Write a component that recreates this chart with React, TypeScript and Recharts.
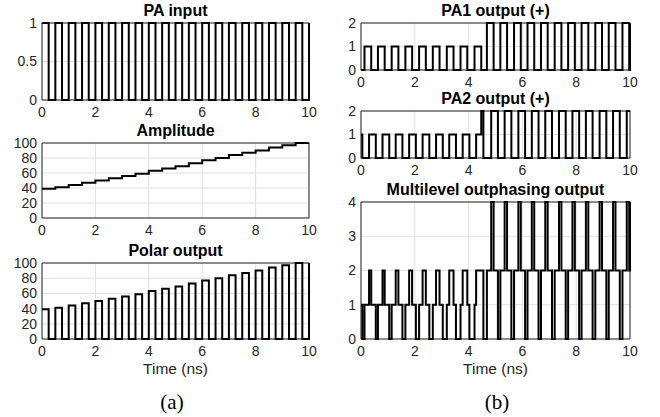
import React from 'react';
import { LineChart, Line, XAxis, YAxis, CartesianGrid, ReferenceArea } from 'recharts';

// ---- tick labels ----
const timeTicks = [0, 2, 4, 6, 8, 10];
const inputTicks = [0, 0.5, 1];
const percentTicks = [0, 20, 40, 60, 80, 100];
const paTicks = [0, 1, 2];
const multiTicks = [0, 1, 2, 3, 4];

// ---- PA input (square wave, 0/1) ----
const inputRise = [0, 0.5, 1, 1.5, 2, 2.5, 3, 3.5, 4, 4.5, 5, 5.5, 6, 6.5, 7, 7.5, 8, 8.5, 9, 9.5, 10];
const inputFall = [0.25, 0.75, 1.25, 1.75, 2.25, 2.75, 3.25, 3.75, 4.25, 4.75, 5.25, 5.75, 6.25, 6.75, 7.25, 7.75, 8.25, 8.75, 9.25, 9.75];

// ---- Amplitude staircase ----
const ampTimes = [0, 0.5, 1, 1.5, 2, 2.5, 3, 3.5, 4, 4.5, 5, 5.5, 6, 6.5, 7, 7.5, 8, 8.5, 9, 9.5, 10];
const ampLevels = [39, 41, 44, 47, 50, 53, 56, 59, 63, 66, 69, 73, 77, 80, 84, 87, 90, 94, 97, 100, 100];

// ---- PA1 output (+): [time, level] edges ----
const pa1Edges: [number, number][] = [
  [0, 0],
  [0.13, 1], [0.38, 0], [0.63, 1], [0.88, 0], [1.14, 1], [1.39, 0], [1.65, 1], [1.9, 0],
  [2.16, 1], [2.41, 0], [2.67, 1], [2.92, 0], [3.19, 1], [3.44, 0], [3.7, 1], [3.95, 0],
  [4.22, 1], [4.47, 0],
  [4.68, 2], [4.93, 0], [5.18, 2], [5.43, 0], [5.69, 2], [5.94, 0], [6.19, 2], [6.44, 0],
  [6.69, 2], [6.94, 0], [7.2, 2], [7.45, 0], [7.7, 2], [7.95, 0], [8.2, 2], [8.45, 0],
  [8.71, 2], [8.96, 0], [9.21, 2], [9.46, 0], [9.72, 2], [9.97, 0],
  [10, 2],
];

// ---- PA2 output (+): [time, level] edges ----
const pa2Edges: [number, number][] = [
  [0, 1], [0.05, 0],
  [0.3, 1], [0.55, 0], [0.8, 1], [1.05, 0], [1.29, 1], [1.54, 0], [1.79, 1], [2.04, 0],
  [2.29, 1], [2.54, 0], [2.79, 1], [3.04, 0], [3.28, 1], [3.53, 0], [3.78, 1], [4.03, 0],
  [4.28, 1], [4.47, 2], [4.55, 0],
  [4.84, 2], [5.09, 0], [5.34, 2], [5.59, 0], [5.85, 2], [6.1, 0], [6.35, 2], [6.6, 0],
  [6.85, 2], [7.1, 0], [7.36, 2], [7.61, 0], [7.86, 2], [8.11, 0], [8.36, 2], [8.61, 0],
  [8.87, 2], [9.12, 0], [9.37, 2], [9.62, 0], [9.88, 2],
  [10, 2],
];

type Pt = { t: number; v: number };

function valueAt(edges: [number, number][], t: number): number {
  let v = edges[0][1];
  for (const [et, ev] of edges) {
    if (et <= t + 1e-9) v = ev;
    else break;
  }
  return v;
}

const inputEdges: [number, number][] = [];
inputRise.forEach((r, i) => {
  inputEdges.push([r, 1]);
  if (i < inputFall.length) inputEdges.push([inputFall[i], 0]);
});
const ampEdges: [number, number][] = ampTimes.map((t, i) => [t, ampLevels[i]]);

function toData(edges: [number, number][]): Pt[] {
  return edges.map(([t, v]) => ({ t, v }));
}

function combine(a: [number, number][], b: [number, number][], op: (x: number, y: number) => number): Pt[] {
  const times = Array.from(new Set([...a.map((e) => e[0]), ...b.map((e) => e[0])])).sort((p, q) => p - q);
  return times.map((t) => ({ t, v: op(valueAt(a, t), valueAt(b, t)) }));
}

const inputData = toData(inputEdges);
const ampData = toData(ampEdges);
const polarData = combine(inputEdges, ampEdges, (x, y) => x * y);
const pa1Data = toData(pa1Edges);
const pa2Data = toData(pa2Edges);
const multiData = combine(pa1Edges, pa2Edges, (x, y) => x + y);

const FONT = '"Liberation Sans", Arial, Helvetica, sans-serif';
const tickStyle = { fontFamily: FONT, fontSize: 14, fill: '#262626' };

type Rect = { x0: number; y0: number; x1: number; y1: number };

function Panel({ rect, data, yMax, yTicks }: { rect: Rect; data: Pt[]; yMax: number; yTicks: number[] }) {
  const W = rect.x1 - rect.x0;
  const H = rect.y1 - rect.y0;
  const padL = 44;
  const padT = 10;
  const padR = 14;
  const padB = 24;
  return (
    <div style={{ position: 'absolute', left: rect.x0 - padL, top: rect.y0 - padT }}>
      <LineChart
        width={W + padL + padR}
        height={H + padT + padB}
        data={data}
        margin={{ top: padT, right: padR, bottom: 0, left: 0 }}
      >
        <CartesianGrid stroke="#e1e1e1" strokeWidth={1} />
        <XAxis
          dataKey="t"
          type="number"
          domain={[0, 10]}
          ticks={timeTicks}
          interval={0}
          height={padB}
          tickSize={0}
          tickMargin={7}
          axisLine={false}
          tickLine={false}
          tick={tickStyle}
        />
        <YAxis
          type="number"
          domain={[0, yMax]}
          ticks={yTicks}
          interval={0}
          width={padL}
          tickSize={0}
          tickMargin={5}
          axisLine={false}
          tickLine={false}
          tick={tickStyle}
        />
        <ReferenceArea x1={0} x2={10} y1={0} y2={yMax} fill="none" fillOpacity={0} stroke="#262626" strokeWidth={1} strokeOpacity={1} />
        <Line
          dataKey="v"
          type="stepAfter"
          stroke="#000000"
          strokeWidth={2}
          dot={false}
          activeDot={false}
          isAnimationActive={false}
        />
      </LineChart>
    </div>
  );
}

const LEFT = { x0: 42, x1: 309 };
const RIGHT = { x0: 361, x1: 630 };

const rInput: Rect = { ...LEFT, y0: 23, y1: 100 };
const rAmp: Rect = { ...LEFT, y0: 143, y1: 218 };
const rPolar: Rect = { ...LEFT, y0: 263, y1: 339 };
const rPa1: Rect = { ...RIGHT, y0: 23, y1: 70 };
const rPa2: Rect = { ...RIGHT, y0: 111, y1: 158 };
const rMulti: Rect = { ...RIGHT, y0: 202, y1: 339 };

function Title({ rect, text }: { rect: Rect; text: string }) {
  return (
    <text
      x={(rect.x0 + rect.x1) / 2}
      y={rect.y0 - 7}
      textAnchor="middle"
      fontFamily={FONT}
      fontWeight="bold"
      fontSize={16}
      fill="#000"
    >
      {text}
    </text>
  );
}

export default function App() {
  return (
    <div style={{ position: 'absolute', left: 0, top: 0, width: 660, height: 417, background: '#fff', overflow: 'hidden' }}>
      <Panel rect={rInput} data={inputData} yMax={1} yTicks={inputTicks} />
      <Panel rect={rAmp} data={ampData} yMax={100} yTicks={percentTicks} />
      <Panel rect={rPolar} data={polarData} yMax={100} yTicks={percentTicks} />
      <Panel rect={rPa1} data={pa1Data} yMax={2} yTicks={paTicks} />
      <Panel rect={rPa2} data={pa2Data} yMax={2} yTicks={paTicks} />
      <Panel rect={rMulti} data={multiData} yMax={4} yTicks={multiTicks} />
      <svg width={660} height={417} style={{ position: 'absolute', left: 0, top: 0, pointerEvents: 'none' }}>
        <Title rect={rInput} text="PA input" />
        <Title rect={rAmp} text="Amplitude" />
        <Title rect={rPolar} text="Polar output" />
        <Title rect={rPa1} text="PA1 output (+)" />
        <Title rect={rPa2} text="PA2 output (+)" />
        <Title rect={rMulti} text="Multilevel outphasing output" />
        <text x={175.5} y={373.5} textAnchor="middle" fontFamily={FONT} fontSize={15.5} fill="#262626">Time (ns)</text>
        <text x={495.5} y={373.5} textAnchor="middle" fontFamily={FONT} fontSize={15.5} fill="#262626">Time (ns)</text>
        <text x={172} y={409} textAnchor="middle" fontFamily='"Liberation Serif", "Times New Roman", serif' fontSize={21} fill="#000">(a)</text>
        <text x={497} y={409} textAnchor="middle" fontFamily='"Liberation Serif", "Times New Roman", serif' fontSize={21} fill="#000">(b)</text>
      </svg>
    </div>
  );
}
